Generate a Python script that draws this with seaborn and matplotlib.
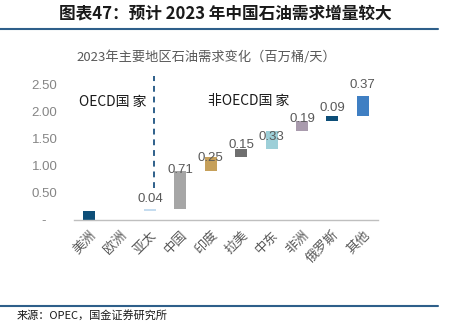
import matplotlib
matplotlib.use("Agg")
import matplotlib.pyplot as plt
import seaborn as sns
import pandas as pd
import numpy as np
from matplotlib.lines import Line2D

# ---- data ----
regions = ["美洲", "欧洲", "亚太", "中国", "印度", "拉美", "中东", "非洲", "俄罗斯", "其他"]
changes = [0.16, 0.00, 0.04, 0.71, 0.25, 0.15, 0.33, 0.19, 0.09, 0.37]
shown_labels = ["", "", "0.04", "0.71", "0.25", "0.15", "0.33", "0.19", "0.09", "0.37"]
yticks = [0, 0.5, 1.0, 1.5, 2.0, 2.5]
ytick_labels = ["-   ", "0.50", "1.00", "1.50", "2.00", "2.50"]

# ---- styles ----
colors = ["#0d4e78", "#0d4e78", "#c5dcef", "#a6a6a6", "#c6a05a", "#6f6f6f",
          "#9dcfd8", "#a99bad", "#0d4e78", "#3f7fc3"]
label_offsets = [0, 0, 0.19, 0.02, -0.01, 0.08, -0.10, 0.04, 0.15, 0.21]

sns.set_style("white")
plt.rcParams["font.family"] = ["Noto Sans CJK SC", "DejaVu Sans"]

bases = np.concatenate([[0], np.cumsum(changes)[:-1]])
tops = bases + np.array(changes)

df = pd.DataFrame({"region": regions, "change": changes})

fig = plt.figure(figsize=(4.5, 3.25), dpi=100)
ax = fig.add_axes([74 / 450, 105 / 325, 304 / 450, 0.449])

sns.barplot(data=df, x="region", y="change", order=regions, ax=ax,
            width=0.4, color="#888888", saturation=1)
for patch, c, b in zip(ax.patches, colors, bases):
    patch.set_facecolor(c)
    patch.set_edgecolor("none")
    patch.set_y(b)

grey = "#595959"
for i, (t, lab, off) in enumerate(zip(tops, shown_labels, label_offsets)):
    if lab:
        ax.text(i, t + off, lab, ha="center", va="center", fontsize=9.5,
                color=grey, family=["Liberation Sans", "DejaVu Sans"])

ax.set_xlim(-0.5, 9.5)
ax.set_ylim(0, 2.7)
ax.set_yticks(yticks)
ax.set_yticklabels(ytick_labels, family=["Liberation Sans", "DejaVu Sans"])
ax.tick_params(axis="y", length=0, pad=12, labelsize=9.5, labelcolor="#858585")
ax.set_xticks(range(len(regions)))
ax.set_xticklabels(regions, rotation=45, ha="right", rotation_mode="anchor")
ax.tick_params(axis="x", length=0, pad=6, labelsize=9.5, labelcolor=grey)
ax.set_xticks(np.arange(-0.5, 10, 1), minor=True)
ax.tick_params(axis="x", which="minor", length=3, width=0.8, color="#bfbfbf", direction="out")
ax.set_xlabel("")
ax.set_ylabel("")
for s in ["top", "right", "left"]:
    ax.spines[s].set_visible(False)
ax.spines["bottom"].set_color("#bfbfbf")
ax.spines["bottom"].set_linewidth(1)

# dashed divider
ax.vlines(2.14, 0.59, 2.67, colors="#2e5f8a", linestyles=(0, (3, 2.5)), linewidth=1.4)
ax.text(0.76, 2.19, "OECD国 家", ha="center", va="center", fontsize=10, color="#1a1a1a")
ax.text(5.26, 2.2, "非OECD国 家", ha="center", va="center", fontsize=10, color="#1a1a1a")

# titles and frame
fig.text(206 / 450, 1 - 57 / 325, "2023年主要地区石油需求变化（百万桶/天）", ha="center",
         va="center", fontsize=9.5, color=grey)
fig.text(225 / 450, 1 - 14 / 325, "图表47：预计 2023 年中国石油需求增量较大", ha="center",
         va="center", fontsize=12, fontweight="bold", color="#1a1a1a")
fig.add_artist(Line2D([0, 438 / 450], [1 - 29 / 325, 1 - 29 / 325], color="#2e5f8a", linewidth=1.5))
fig.add_artist(Line2D([0, 438 / 450], [1 - 306 / 325, 1 - 306 / 325], color="#2e5f8a", linewidth=1.5))
fig.text(17 / 450, 1 - 315 / 325, "来源：OPEC，国金证券研究所", ha="left", va="center",
         fontsize=8, color="#1a1a1a")

fig.savefig("out.png", dpi=100)
